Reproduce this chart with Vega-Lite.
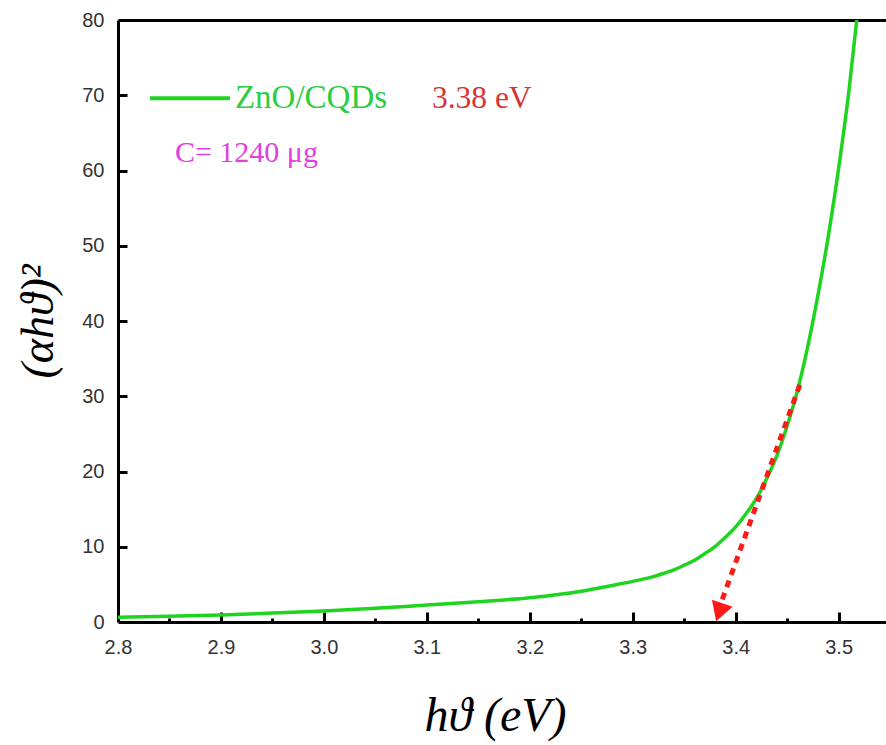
{
  "$schema": "https://vega.github.io/schema/vega-lite/v6.json",
  "width": 768,
  "height": 602,
  "autosize": "none",
  "padding": {"left": 118, "top": 20, "right": 0, "bottom": 123},
  "background": "white",
  "config": {
    "view": {"stroke": null},
    "axis": {
      "grid": false,
      "domainColor": "#000",
      "domainWidth": 3,
      "tickColor": "#000",
      "tickWidth": 3,
      "labelFont": "Liberation Sans",
      "labelFontSize": 20,
      "labelColor": "#333",
      "labelFlush": false
    }
  },
  "datasets": {
    "curve": [
      {"e": 2.80, "a": 0.62}, {"e": 2.85, "a": 0.78}, {"e": 2.90, "a": 0.93},
      {"e": 2.95, "a": 1.18}, {"e": 3.00, "a": 1.46}, {"e": 3.05, "a": 1.82},
      {"e": 3.10, "a": 2.26}, {"e": 3.15, "a": 2.70}, {"e": 3.20, "a": 3.23},
      {"e": 3.25, "a": 4.1}, {"e": 3.28, "a": 4.86}, {"e": 3.30, "a": 5.40},
      {"e": 3.31, "a": 5.70}, {"e": 3.32, "a": 6.03}, {"e": 3.33, "a": 6.46},
      {"e": 3.34, "a": 6.93}, {"e": 3.35, "a": 7.55}, {"e": 3.36, "a": 8.21},
      {"e": 3.37, "a": 9.08}, {"e": 3.38, "a": 10.03}, {"e": 3.39, "a": 11.26},
      {"e": 3.40, "a": 12.63}, {"e": 3.41, "a": 14.38}, {"e": 3.42, "a": 16.38},
      {"e": 3.43, "a": 19.03}, {"e": 3.44, "a": 22.11}, {"e": 3.45, "a": 26.07},
      {"e": 3.46, "a": 30.75}, {"e": 3.47, "a": 36.6}, {"e": 3.48, "a": 43.5},
      {"e": 3.49, "a": 51.3}, {"e": 3.50, "a": 60.3}, {"e": 3.51, "a": 70.6},
      {"e": 3.52, "a": 83.0}
    ],
    "tangent": [
      {"e": 3.387, "a": 3.0}, {"e": 3.463, "a": 31.8}
    ],
    "arrow": [{"e": 3.384, "a": 1.3}],
    "legendline": [{"e": 2.8311, "a": 69.6}, {"e": 2.9087, "a": 69.6}],
    "labels": [
      {"e": 2.9136, "a": 68.3, "label": "ZnO/CQDs"},
      {"e": 3.1049, "a": 68.3, "label": "3.38 eV"},
      {"e": 2.8553, "a": 61.1, "label": "C= 1240 μg"}
    ]
  },
  "resolve": {"axis": {"x": "independent", "y": "independent"}},
  "layer": [
    {
      "data": {"name": "curve"},
      "mark": {"type": "line", "clip": true, "color": "#1ed41e", "strokeWidth": 3.5, "interpolate": "monotone"},
      "encoding": {
        "x": {
          "field": "e", "type": "quantitative",
          "scale": {"domain": [2.8, 3.546], "nice": false, "zero": false},
          "axis": {
            "orient": "bottom", "title": "hϑ (eV)",
            "values": [2.8, 2.9, 3.0, 3.1, 3.2, 3.3, 3.4, 3.5],
            "format": ".1f", "ticks": false, "labelPadding": 15,
            "titleFont": "Liberation Serif", "titleFontStyle": "italic", "titleFontWeight": "normal",
            "titleFontSize": 48, "titleColor": "#000",
            "titleX": 377, "titleY": 94, "titleAlign": "center", "titleBaseline": "middle"
          }
        },
        "y": {
          "field": "a", "type": "quantitative",
          "scale": {"domain": [0, 80], "nice": false, "zero": true},
          "axis": {
            "orient": "left", "title": "(αhϑ)²",
            "values": [0, 10, 20, 30, 40, 50, 60, 70, 80],
            "ticks": false, "labelPadding": 14,
            "titleFont": "Liberation Serif", "titleFontStyle": "italic", "titleFontWeight": "normal",
            "titleFontSize": 46, "titleColor": "#000",
            "titleX": -80, "titleY": 301, "titleAngle": -90, "titleAlign": "center", "titleBaseline": "middle"
          }
        }
      }
    },
    {
      "data": {"name": "tangent"},
      "mark": {"type": "line", "color": "#ff1a1a", "strokeWidth": 5, "strokeDash": [7, 6]},
      "encoding": {
        "x": {
          "field": "e", "type": "quantitative",
          "axis": {
            "orient": "bottom", "title": null, "offset": -10, "tickSize": 10,
            "values": [2.9, 3.0, 3.1, 3.2, 3.3, 3.4, 3.5],
            "labels": false, "domain": false
          }
        },
        "y": {
          "field": "a", "type": "quantitative",
          "axis": {
            "orient": "left", "title": null, "offset": -9, "tickSize": 9,
            "values": [10, 20, 30, 40, 50, 60, 70],
            "labels": false, "domain": false
          }
        }
      }
    },
    {
      "data": {"name": "arrow"},
      "mark": {"type": "point", "shape": "triangle-down", "filled": true, "color": "#ff1a1a", "size": 480, "opacity": 1, "angle": 19},
      "encoding": {
        "x": {
          "field": "e", "type": "quantitative",
          "axis": {
            "orient": "bottom", "title": null, "offset": -4, "tickSize": 4,
            "values": [2.85, 2.95, 3.05, 3.15, 3.25, 3.35, 3.45],
            "labels": false, "domain": false
          }
        },
        "y": {"field": "a", "type": "quantitative", "axis": null}
      }
    },
    {
      "data": {"name": "legendline"},
      "mark": {"type": "line", "color": "#1ed41e", "strokeWidth": 4},
      "encoding": {
        "x": {
          "field": "e", "type": "quantitative",
          "axis": {"orient": "top", "title": null, "labels": false, "ticks": false, "domain": true}
        },
        "y": {"field": "a", "type": "quantitative", "axis": null}
      }
    },
    {
      "data": {"name": "labels"},
      "mark": {"type": "text", "font": "Liberation Serif", "align": "left", "baseline": "alphabetic"},
      "encoding": {
        "x": {"field": "e", "type": "quantitative", "axis": null},
        "y": {"field": "a", "type": "quantitative", "axis": null},
        "text": {"field": "label"},
        "size": {
          "field": "label", "type": "nominal", "legend": null,
          "scale": {"domain": ["ZnO/CQDs", "3.38 eV", "C= 1240 μg"], "range": [33, 30, 32]}
        },
        "color": {
          "field": "label", "type": "nominal", "legend": null,
          "scale": {"domain": ["ZnO/CQDs", "3.38 eV", "C= 1240 μg"], "range": ["#2ecc40", "#d63434", "#e040e0"]}
        }
      }
    }
  ]
}
